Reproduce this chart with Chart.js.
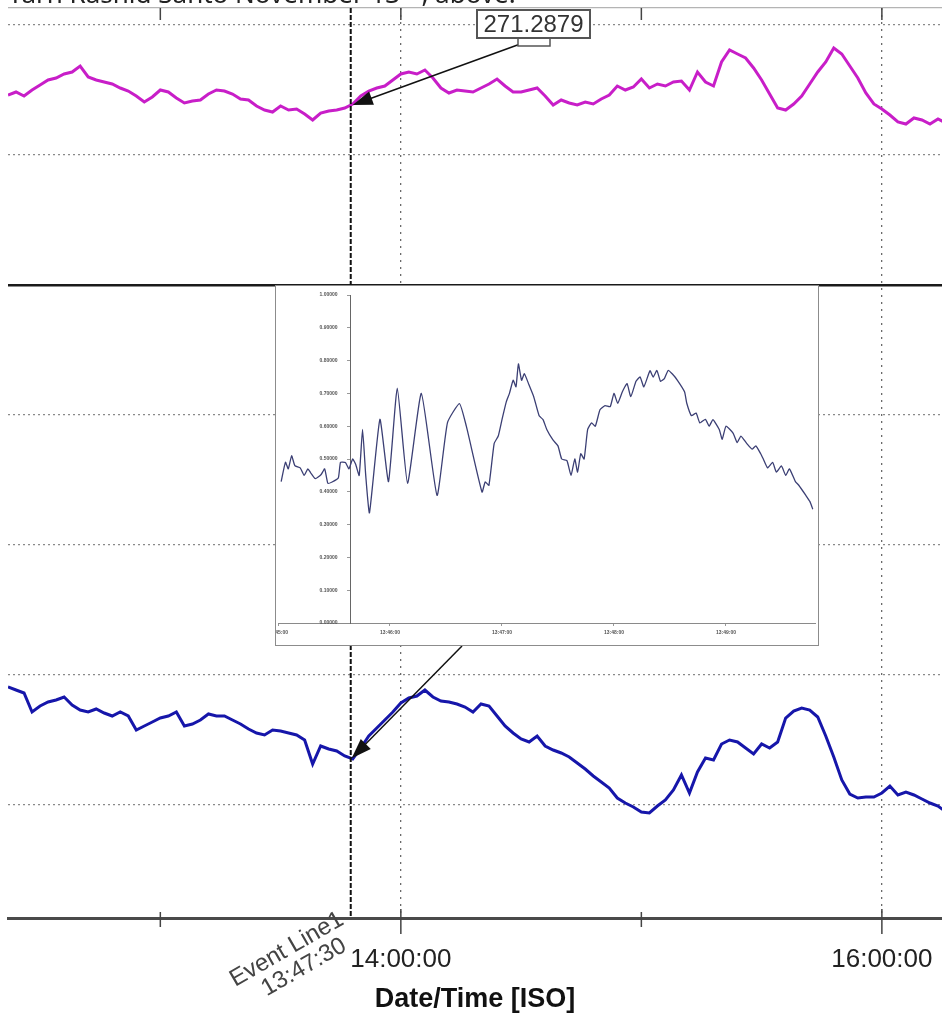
<!DOCTYPE html>
<html>
<head>
<meta charset="utf-8">
<script src="https://cdn.jsdelivr.net/npm/chart.js@4.4.1/dist/chart.umd.min.js"></script>
<style>
  html, body { margin: 0; padding: 0; background: #fff; overflow: hidden; }
  #wrap { position: relative; width: 942px; height: 1024px; }
  #main { position: absolute; left: 0; top: 0; }
  #caption { position: absolute; left: 8px; top: -30px; font: 26px 'Noto Sans', sans-serif; color: #222; white-space: nowrap; }
  #insetBox { position: absolute; left: 275px; top: 285px; width: 544px; height: 361px; box-sizing: border-box; border: 1px solid #8c8c8c; background: #fff; }
  #inset { position: absolute; left: 0; top: 0; }
</style>
</head>
<body>
<div id="wrap">
  <canvas id="main" width="942" height="1024"></canvas>
  <div id="caption">Yarn Rashid Sahto November 13<sup>th</sup>, above.</div>
  <div id="insetBox"><canvas id="inset" width="542" height="359"></canvas></div>
</div>
<script>
// sample times of the two long traces
const sampleTimes = [
  '12:22','12:24','12:26','12:28','12:30','12:32','12:34','12:36','12:38','12:40',
  '12:42','12:44','12:46','12:48','12:50','12:52','12:54','12:56','12:58','13:00',
  '13:02','13:04','13:06','13:08','13:10','13:12','13:14','13:16','13:18','13:20',
  '13:22','13:24','13:26','13:28','13:30','13:32','13:34','13:36','13:38','13:40',
  '13:42','13:44','13:46','13:48','13:50','13:52','13:54','13:56','13:58','14:00',
  '14:02','14:04','14:06','14:08','14:10','14:12','14:14','14:16','14:18','14:20',
  '14:22','14:24','14:26','14:28','14:30','14:32','14:34','14:36','14:38','14:40',
  '14:42','14:44','14:46','14:48','14:50','14:52','14:54','14:56','14:58','15:00',
  '15:02','15:04','15:06','15:08','15:10','15:12','15:14','15:16','15:18','15:20',
  '15:22','15:24','15:26','15:28','15:30','15:32','15:34','15:36','15:38','15:40',
  '15:42','15:44','15:46','15:48','15:50','15:52','15:54','15:56','15:58','16:00',
  '16:02','16:04','16:06','16:08','16:10','16:12','16:14','16:16'
];

// upper trace (magenta)
const upperValues = [
  271.338,271.353,271.333,271.363,271.388,271.413,271.423,271.443,271.453,271.483,
  271.428,271.413,271.403,271.393,271.373,271.358,271.333,271.303,271.328,271.363,
  271.353,271.323,271.298,271.308,271.313,271.343,271.363,271.358,271.343,271.318,
  271.313,271.283,271.263,271.253,271.283,271.263,271.268,271.243,271.213,271.248,
  271.258,271.263,271.273,271.293,271.333,271.358,271.373,271.383,271.413,271.443,
  271.453,271.443,271.463,271.423,271.373,271.348,271.363,271.358,271.353,271.373,
  271.393,271.418,271.383,271.353,271.353,271.363,271.373,271.333,271.288,271.313,
  271.298,271.288,271.303,271.293,271.318,271.338,271.383,271.363,271.378,271.418,
  271.373,271.393,271.383,271.403,271.408,271.363,271.453,271.403,271.383,271.503,
  271.563,271.543,271.523,271.473,271.413,271.343,271.273,271.263,271.293,271.333,
  271.393,271.453,271.503,271.573,271.543,271.483,271.423,271.348,271.293,271.268,
  271.238,271.203,271.193,271.223,271.213,271.193,271.218,271.198
];

// lower trace (blue)
const lowerValues = [
  0.988,0.985,0.982,0.963,0.969,0.973,0.975,0.978,0.970,0.965,
  0.963,0.966,0.962,0.959,0.963,0.959,0.945,0.949,0.953,0.957,
  0.959,0.963,0.949,0.951,0.955,0.961,0.959,0.959,0.955,0.951,
  0.946,0.942,0.940,0.945,0.944,0.942,0.940,0.935,0.911,0.929,
  0.926,0.924,0.919,0.916,0.927,0.939,0.947,0.955,0.963,0.972,
  0.977,0.979,0.985,0.978,0.974,0.973,0.971,0.968,0.963,0.971,
  0.969,0.959,0.949,0.942,0.936,0.933,0.939,0.929,0.925,0.922,
  0.918,0.912,0.906,0.899,0.893,0.887,0.877,0.872,0.868,0.863,
  0.862,0.869,0.875,0.885,0.900,0.882,0.903,0.917,0.915,0.931,
  0.935,0.933,0.927,0.921,0.931,0.927,0.933,0.957,0.964,0.967,
  0.965,0.958,0.939,0.918,0.895,0.881,0.877,0.878,0.878,0.882,
  0.889,0.880,0.883,0.880,0.876,0.872,0.869,0.863
];

const hourTicks = ['13:00', '14:00', '15:00', '16:00'];
const labelledHours = ['14:00', '16:00'];
const panelLines = [1, 2, 3, 4, 5, 6, 7];
const panelSeparator = 5;

const eventTime = '13:47:30';
const eventName = 'Event Line1';
const eventReadout = 271.2879;

// inset: zoom of a third signal around the event
const insetStart = '13:45:00';
const insetSeconds = [
  1.7, 4, 5.5, 7.3, 9, 11.9, 14, 16, 17.5, 20, 23, 25, 26.7, 29, 32.3, 33.5, 36.1, 38, 40, 41.6,
  43.5, 45.3, 47, 49, 54.6, 59.2, 63.9, 69.4, 76.8, 85.2, 90.8, 97.2, 100.9, 109.3, 111, 113, 115.8, 118, 120, 122.3,
  124, 126, 127.5, 128.8, 130.5, 132, 134.4, 137, 139.9, 142, 144, 147.3, 150, 152, 154.8, 157, 159, 160.5, 162.2, 164,
  165.9, 168, 170, 172.5, 175.2, 178, 180, 182, 184.5, 187, 189, 191.8, 194, 196, 199.3, 201, 203, 204.9, 207, 209,
  211.3, 214, 217.8, 219, 221.5, 224, 226, 229, 231, 233, 236.4, 238, 240, 243.8, 246, 248, 251.2, 254, 256, 258.6,
  260, 262.3, 265, 267, 269.7, 272, 274, 277.2, 279, 282.8, 285, 286.5
];
const insetValues = [
  0.431, 0.49, 0.47, 0.51, 0.48, 0.473, 0.45, 0.47, 0.458, 0.44, 0.452, 0.47, 0.426, 0.43, 0.442, 0.49, 0.489, 0.47, 0.50, 0.484,
  0.45, 0.59, 0.45, 0.336, 0.621, 0.431, 0.716, 0.426, 0.700, 0.389, 0.611, 0.669, 0.600, 0.399, 0.43, 0.42, 0.547, 0.57, 0.62, 0.674,
  0.70, 0.74, 0.72, 0.79, 0.74, 0.76, 0.727, 0.69, 0.632, 0.62, 0.59, 0.558, 0.54, 0.50, 0.495, 0.45, 0.50, 0.46, 0.516, 0.50,
  0.59, 0.61, 0.60, 0.65, 0.663, 0.66, 0.70, 0.67, 0.705, 0.73, 0.69, 0.737, 0.75, 0.72, 0.769, 0.75, 0.77, 0.737, 0.745, 0.77,
  0.759, 0.74, 0.705, 0.67, 0.632, 0.64, 0.61, 0.621, 0.60, 0.62, 0.59, 0.56, 0.60, 0.579, 0.55, 0.57, 0.547, 0.53, 0.54, 0.516,
  0.50, 0.473, 0.49, 0.46, 0.479, 0.45, 0.47, 0.431, 0.42, 0.389, 0.37, 0.347
];
const insetTimeTicks = [0, 60, 120, 180, 240];
const insetValueTicks = [0, 0.1, 0.2, 0.3, 0.4, 0.5, 0.6, 0.7, 0.8, 0.9, 1];

Chart.defaults.font.family = '"Liberation Sans", Arial, sans-serif';

function toMinutes(t) {
  const p = t.split(':').map(Number);
  return p[0] * 60 + p[1] + (p[2] || 0) / 60;
}

function clock(min) {
  const s = Math.round(min * 60);
  const pad = n => String(n).padStart(2, '0');
  return pad(Math.floor(s / 3600)) + ':' + pad(Math.floor(s / 60) % 60) + ':' + pad(s % 60);
}

function valueAt(times, values, t) {
  for (let i = 1; i < times.length; i++) {
    if (times[i] >= t) {
      const f = (t - times[i - 1]) / (times[i] - times[i - 1]);
      return values[i - 1] + f * (values[i] - values[i - 1]);
    }
  }
  return values[values.length - 1];
}

function arrow(ctx, x1, y1, x2, y2) {
  const a = Math.atan2(y2 - y1, x2 - x1);
  const len = 20, half = 7;
  ctx.beginPath();
  ctx.moveTo(x1, y1);
  ctx.lineTo(x2 - Math.cos(a) * len * 0.8, y2 - Math.sin(a) * len * 0.8);
  ctx.stroke();
  ctx.beginPath();
  ctx.moveTo(x2, y2);
  ctx.lineTo(x2 - len * Math.cos(a) + half * Math.sin(a), y2 - len * Math.sin(a) - half * Math.cos(a));
  ctx.lineTo(x2 - len * Math.cos(a) - half * Math.sin(a), y2 - len * Math.sin(a) + half * Math.cos(a));
  ctx.closePath();
  ctx.fill();
}

// keep tick labels from shrinking the plot area
function noSidePadding(s) {
  s.paddingLeft = 0;
  s.paddingRight = 0;
}
function noEndPadding(s) {
  s.paddingTop = 0;
  s.paddingBottom = 0;
}

const minutes = sampleTimes.map(toMinutes);
const eventMin = toMinutes(eventTime);
const panelMax = 927 / 130;

const overlay = {
  id: 'overlay',
  afterDatasetsDraw(chart) {
    const { ctx, chartArea: area, scales } = chart;
    const ex = scales.x.getPixelForValue(eventMin);

    // hour tick marks at top edge and across the time axis
    ctx.save();
    ctx.strokeStyle = '#444';
    ctx.lineWidth = 1.5;
    hourTicks.forEach(t => {
      const px = scales.x.getPixelForValue(toMinutes(t));
      const major = labelledHours.includes(t);
      ctx.beginPath();
      ctx.moveTo(px, area.top);
      ctx.lineTo(px, area.top + 12);
      ctx.moveTo(px, area.bottom - (major ? 9 : 6));
      ctx.lineTo(px, area.bottom + (major ? 16 : 9));
      ctx.stroke();
    });
    ctx.restore();

    // event line
    ctx.save();
    ctx.strokeStyle = '#111';
    ctx.lineWidth = 2;
    ctx.setLineDash([5, 2]);
    ctx.beginPath();
    ctx.moveTo(ex, area.top);
    ctx.lineTo(ex, area.bottom);
    ctx.stroke();
    ctx.restore();

    // event label under the axis
    ctx.save();
    ctx.translate(ex - 58, area.bottom + 42);
    ctx.rotate(-30 * Math.PI / 180);
    ctx.fillStyle = '#444';
    ctx.font = '24px "Liberation Sans", Arial, sans-serif';
    ctx.textAlign = 'center';
    ctx.textBaseline = 'middle';
    ctx.fillText(eventName, 0, -12);
    ctx.fillText(clock(eventMin), 6, 12);
    ctx.restore();

    // readout box + arrows to both traces
    const topTip = scales.yTop.getPixelForValue(eventReadout);
    const lowTip = scales.yBot.getPixelForValue(valueAt(minutes, lowerValues, eventMin));
    ctx.save();
    ctx.strokeStyle = '#111';
    ctx.fillStyle = '#111';
    ctx.lineWidth = 1.5;
    arrow(ctx, 523, 43, ex + 2, topTip);
    arrow(ctx, 462, 646, ex + 1, lowTip);
    ctx.restore();

    ctx.save();
    ctx.fillStyle = '#fff';
    ctx.strokeStyle = '#555';
    ctx.lineWidth = 1.5;
    ctx.fillRect(518, 36, 32, 10);
    ctx.strokeRect(518, 36, 32, 10);
    ctx.lineWidth = 2;
    ctx.fillRect(477, 10, 113, 28);
    ctx.strokeRect(477, 10, 113, 28);
    ctx.fillStyle = '#333';
    ctx.font = '24px "Liberation Sans", Arial, sans-serif';
    ctx.textAlign = 'center';
    ctx.textBaseline = 'middle';
    ctx.fillText(String(eventReadout), 533.5, 25);
    ctx.restore();
  }
};

new Chart(document.getElementById('main'), {
  type: 'line',
  data: {
    datasets: [
      {
        label: 'upper',
        data: minutes.map((m, i) => ({ x: m, y: upperValues[i] })),
        yAxisID: 'yTop',
        borderColor: '#c81ec8',
        borderWidth: 3,
        pointRadius: 0
      },
      {
        label: 'lower',
        data: minutes.map((m, i) => ({ x: m, y: lowerValues[i] })),
        yAxisID: 'yBot',
        borderColor: '#1616aa',
        borderWidth: 3,
        pointRadius: 0
      }
    ]
  },
  options: {
    responsive: false,
    animation: false,
    events: [],
    layout: { autoPadding: false, padding: { top: 8, left: 8, right: 0, bottom: 0 } },
    plugins: { legend: { display: false }, tooltip: { enabled: false } },
    scales: {
      x: {
        type: 'linear',
        min: toMinutes('12:22'),
        max: toMinutes('16:15'),
        afterBuildTicks: s => { s.ticks = hourTicks.map(t => ({ value: toMinutes(t) })); },
        afterFit: s => { s.height = 106; noSidePadding(s); },
        grid: {
          drawTicks: false,
          lineWidth: 1.3,
          color: c => (c.tick && labelledHours.map(toMinutes).includes(c.tick.value)) ? '#6a6a6a' : 'rgba(0,0,0,0)'
        },
        border: { display: true, color: '#4a4a4a', width: 3, dash: c => c.tick ? [2, 5] : [] },
        ticks: {
          autoSkip: false,
          maxRotation: 0,
          padding: 26,
          color: '#222',
          font: { size: 26 },
          callback: v => labelledHours.map(toMinutes).includes(v) ? clock(v) : ''
        },
        title: {
          display: true,
          text: 'Date/Time [ISO]',
          color: '#111',
          font: { size: 27, weight: 'bold' },
          padding: { top: 0, bottom: 8 }
        }
      },
      panel: {
        type: 'linear',
        position: 'left',
        min: 17 / 130,
        max: panelMax,
        afterBuildTicks: s => { s.ticks = panelLines.concat([panelMax]).map(v => ({ value: v })); },
        ticks: { display: false },
        grid: {
          drawTicks: false,
          color: c => !c.tick ? '#888' : c.tick.value === panelSeparator ? '#1a1a1a' : c.tick.value > 7 ? '#b4b4b4' : '#8a8a8a',
          lineWidth: c => (c.tick && c.tick.value === panelSeparator) ? 2.5 : 1.3
        },
        border: {
          display: false,
          dash: c => (c.tick && c.tick.value <= 7 && c.tick.value !== panelSeparator) ? [2, 3] : []
        }
      },
      yTop: { type: 'linear', display: false, min: 267.223, max: 271.773 },
      yBot: { type: 'linear', display: false, min: 0.757, max: 1.667 }
    }
  },
  plugins: [overlay]
});

// inset chart
const insetStartMin = toMinutes(insetStart);
const labelGap = '\u2002\u2002\u2002\u2002\u2002';
new Chart(document.getElementById('inset'), {
  type: 'line',
  data: {
    datasets: [{
      data: insetSeconds.map((s, i) => ({ x: s, y: insetValues[i] })),
      borderColor: '#3b3f74',
      borderWidth: 1.3,
      pointRadius: 0,
      tension: 0.15
    }]
  },
  options: {
    responsive: false,
    animation: false,
    events: [],
    layout: { autoPadding: false, padding: { left: 2, right: 3, top: 9, bottom: 0 } },
    plugins: { legend: { display: false }, tooltip: { enabled: false } },
    scales: {
      x: {
        type: 'linear',
        min: 0,
        max: 287.7,
        afterBuildTicks: s => { s.ticks = insetTimeTicks.map(v => ({ value: v })); },
        afterFit: s => { s.height = 22; noSidePadding(s); },
        grid: { drawOnChartArea: false, tickLength: 3, color: '#999' },
        border: { color: '#8a8a8a', width: 1 },
        ticks: { autoSkip: false, maxRotation: 0, padding: 4, color: '#555', font: { size: 5, weight: 'bold' }, callback: v => clock(insetStartMin + v / 60) }
      },
      y: {
        type: 'linear',
        min: 0,
        max: 1,
        position: { x: 38.6 },
        afterBuildTicks: s => { s.ticks = insetValueTicks.map(v => ({ value: v })); },
        afterFit: noEndPadding,
        grid: { drawOnChartArea: false, tickLength: 3, color: '#999' },
        border: { color: '#666', width: 1 },
        ticks: { padding: 3, color: '#555', font: { size: 5, weight: 'bold' }, callback: v => v.toFixed(5) + labelGap }
      }
    }
  }
});
</script>
</body>
</html>
